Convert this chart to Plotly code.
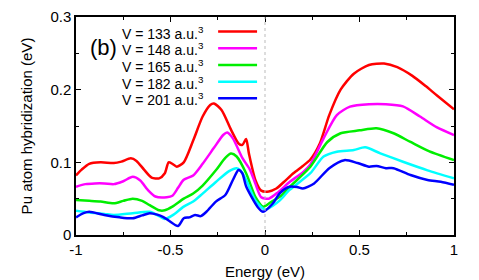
import plotly.graph_objects as go

# Energy (eV) / hybridization (eV), one pair of arrays per volume
labels = ["V = 133 a.u.<sup>3</sup>", "V = 148 a.u.<sup>3</sup>", "V = 165 a.u.<sup>3</sup>",
          "V = 182 a.u.<sup>3</sup>", "V = 201 a.u.<sup>3</sup>"]
colors = ["#ff0000", "#ff00ff", "#00ee00", "#00ffff", "#0000ff"]

x_133 = [-1.0, -0.97, -0.93, -0.87, -0.80, -0.76, -0.71, -0.68, -0.64, -0.60, -0.56, -0.53, -0.51,
         -0.49, -0.467, -0.43, -0.38, -0.33, -0.29, -0.27, -0.23, -0.18, -0.14, -0.12, -0.10, -0.085,
         -0.05, -0.02, 0.02, 0.06, 0.10, 0.15, 0.20, 0.24, 0.29, 0.34, 0.40, 0.47, 0.55, 0.63, 0.70,
         0.78, 0.85, 0.91, 1.0]
y_133 = [0.082, 0.090, 0.098, 0.100, 0.099, 0.101, 0.1055, 0.102, 0.090, 0.079, 0.078, 0.085, 0.100,
         0.098, 0.094, 0.100, 0.130, 0.163, 0.179, 0.181, 0.172, 0.145, 0.126, 0.124, 0.132, 0.112,
         0.075, 0.061, 0.060, 0.064, 0.073, 0.085, 0.095, 0.104, 0.126, 0.165, 0.200, 0.222, 0.234,
         0.236, 0.231, 0.219, 0.205, 0.192, 0.173]

x_148 = [-1.0, -0.95, -0.90, -0.85, -0.80, -0.75, -0.70, -0.66, -0.62, -0.58, -0.52, -0.49, -0.46,
         -0.43, -0.38, -0.33, -0.27, -0.22, -0.20, -0.17, -0.12, -0.08, -0.05, -0.02, 0.02, 0.07,
         0.13, 0.20, 0.24, 0.31, 0.38, 0.45, 0.55, 0.64, 0.73, 0.82, 0.91, 1.0]
y_148 = [0.0665, 0.070, 0.071, 0.071, 0.070, 0.074, 0.080, 0.075, 0.062, 0.053, 0.052, 0.054, 0.065,
         0.076, 0.082, 0.098, 0.120, 0.138, 0.141, 0.133, 0.106, 0.090, 0.070, 0.052, 0.050, 0.059,
         0.073, 0.086, 0.097, 0.133, 0.165, 0.1766, 0.180, 0.180, 0.177, 0.163, 0.148, 0.1375]

x_165 = [-1.0, -0.93, -0.87, -0.80, -0.75, -0.70, -0.65, -0.61, -0.56, -0.53, -0.49, -0.43, -0.38,
         -0.33, -0.26, -0.21, -0.18, -0.15, -0.10, -0.05, -0.01, 0.03, 0.08, 0.13, 0.24, 0.33, 0.40,
         0.50, 0.59, 0.68, 0.77, 0.87, 1.0]
y_165 = [0.048, 0.047, 0.046, 0.0436, 0.047, 0.050, 0.047, 0.041, 0.034, 0.034, 0.039, 0.050, 0.057,
         0.068, 0.089, 0.106, 0.112, 0.108, 0.085, 0.052, 0.039, 0.045, 0.053, 0.066, 0.094, 0.128,
         0.140, 0.144, 0.147, 0.140, 0.128, 0.115, 0.103]

x_182 = [-1.0, -0.93, -0.85, -0.80, -0.70, -0.61, -0.56, -0.53, -0.49, -0.43, -0.38, -0.33, -0.26,
         -0.19, -0.15, -0.13, -0.10, -0.05, 0.0, 0.04, 0.08, 0.13, 0.24, 0.31, 0.38, 0.47, 0.53, 0.61,
         0.73, 0.86, 1.0]
y_182 = [0.0334, 0.031, 0.029, 0.0275, 0.030, 0.032, 0.026, 0.022, 0.027, 0.039, 0.046, 0.057, 0.073,
         0.088, 0.092, 0.089, 0.076, 0.047, 0.035, 0.040, 0.048, 0.062, 0.085, 0.108, 0.1146, 0.117,
         0.1206, 0.1124, 0.1008, 0.089, 0.078]

x_201 = [-1.0, -0.96, -0.93, -0.85, -0.77, -0.70, -0.65, -0.61, -0.57, -0.54, -0.51, -0.46, -0.43,
         -0.40, -0.37, -0.34, -0.31, -0.26, -0.21, -0.17, -0.14, -0.12, -0.10, -0.04, -0.01, 0.04,
         0.08, 0.13, 0.17, 0.20, 0.26, 0.34, 0.42, 0.49, 0.55, 0.59, 0.64, 0.68, 0.77, 0.86, 0.93, 1.0]
y_201 = [0.0243, 0.030, 0.032, 0.0275, 0.0243, 0.023, 0.027, 0.030, 0.028, 0.025, 0.020, 0.0124, 0.023,
         0.0243, 0.0275, 0.026, 0.032, 0.046, 0.055, 0.0757, 0.0894, 0.085, 0.067, 0.039, 0.032, 0.043,
         0.058, 0.0665, 0.066, 0.064, 0.071, 0.092, 0.103, 0.099, 0.094, 0.095, 0.092, 0.092, 0.0825,
         0.0757, 0.0733, 0.069]

series = [(x_133, y_133), (x_148, y_148), (x_165, y_165), (x_182, y_182), (x_201, y_201)]

x_ticks = [-1, -0.5, 0, 0.5, 1]
y_ticks = [0, 0.1, 0.2, 0.3]

FONT = "Liberation Sans, Arial, Helvetica, sans-serif"

fig = go.Figure()

# thin dotted line at the Fermi level
fig.add_vline(x=0, line=dict(color="#bbbbbb", width=1, dash="dot"))

for (xs, ys), name, c in zip(series, labels, colors):
    fig.add_trace(go.Scatter(x=xs, y=ys, name=name, mode="lines",
                             line=dict(color=c, width=2.5, shape="spline", smoothing=0.7)))

# gnuplot-style legend: text right-aligned, sample line on its right
for i, (name, c) in enumerate(zip(labels, colors)):
    ly = 0.928 - i * 0.0765
    fig.add_annotation(x=0.343, y=ly, xref="paper", yref="paper", text=name, showarrow=False,
                       xanchor="right", yanchor="middle", font=dict(size=14, color="black"))
    fig.add_shape(type="line", xref="paper", yref="paper", x0=0.376, x1=0.479, y0=ly + 0.005,
                  y1=ly + 0.005, line=dict(color=c, width=2.5))

fig.add_annotation(x=0.033, y=0.86, xref="paper", yref="paper", text="(b)", showarrow=False,
                   xanchor="left", yanchor="middle", font=dict(size=22, color="black"))

axis_common = dict(showline=True, linecolor="black", linewidth=1.5, mirror="ticks",
                   ticks="inside", ticklen=5, tickcolor="black", showgrid=False, zeroline=False,
                   automargin=False, tickfont=dict(size=15, color="black"))

# the page body adds an 8 px offset, so margins are shifted to land the frame where it should
fig.update_layout(
    width=479,
    height=280,
    margin=dict(l=68, r=33, t=9, b=53),
    paper_bgcolor="white",
    plot_bgcolor="white",
    font=dict(family=FONT, color="black"),
    showlegend=False,
    xaxis=dict(range=[-1, 1], tickvals=x_ticks, ticktext=["-1", "-0.5", "0", "0.5", "1"],
               minor=dict(dtick=0.25, ticks="inside", ticklen=3, tickcolor="black"),
               title=dict(text="Energy (eV)", font=dict(size=15), standoff=10), **axis_common),
    yaxis=dict(range=[0, 0.3], tickvals=y_ticks, ticktext=["0", "0.1", "0.2", "0.3"],
               minor=dict(dtick=0.05, ticks="inside", ticklen=3, tickcolor="black"),
               title=dict(text="Pu atom hybridization (eV)", font=dict(size=15), standoff=14),
               **axis_common),
)

fig.write_html("out.html")
